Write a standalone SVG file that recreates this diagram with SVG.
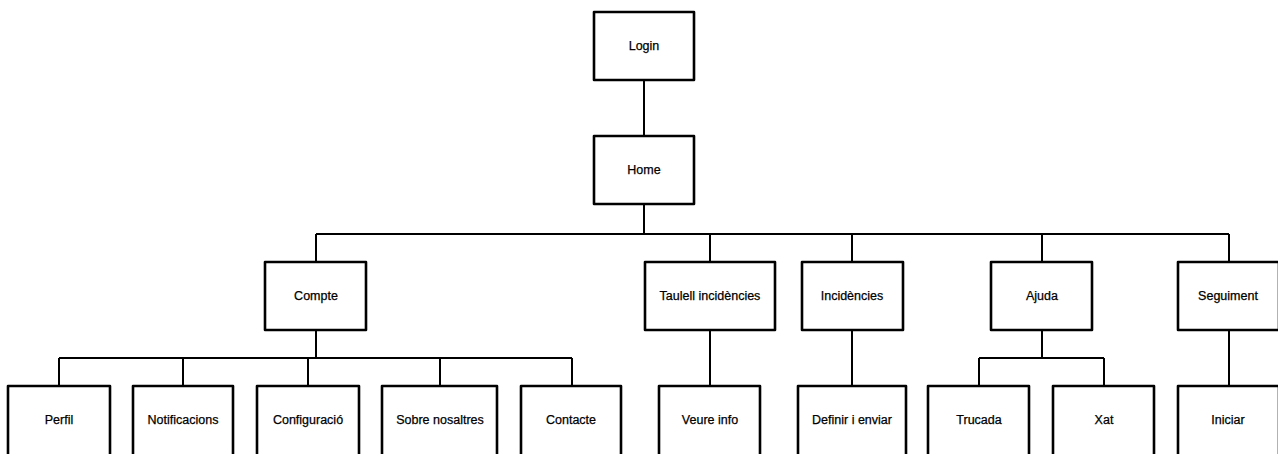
<svg xmlns="http://www.w3.org/2000/svg" width="1278" height="454" viewBox="0 0 1278 454">
<style>
.box{fill:#fff;stroke:#000;stroke-width:2.6;stroke-linejoin:round}
.lbl{font-family:"Liberation Sans",Arial,sans-serif;font-size:12.5px;fill:#000;stroke:#000;stroke-width:0.25;text-anchor:middle;dominant-baseline:central}
.conn{fill:none;stroke:#000;stroke-width:2}
</style>
<rect width="1278" height="454" fill="#fff"/>
<g id="connectors" class="conn">
<path d="M644 80V136"/>
<path d="M644 204V234"/>
<path d="M316 234H1229"/>
<path d="M316 234V262M710 234V262M852 234V262M1042 234V262M1229 234V262"/>
<path d="M316 330V358"/>
<path d="M59 358H572"/>
<path d="M59 358V386M183 358V386M308 358V386M440 358V386M572 358V386"/>
<path d="M710 330V386"/>
<path d="M852 330V386"/>
<path d="M1042 330V358"/>
<path d="M979 358H1104"/>
<path d="M979 358V386M1104 358V386"/>
<path d="M1229 330V386"/>
</g>
<g id="login"><rect class="box" x="594" y="12" width="100" height="68"/><text class="lbl" x="644" y="46">Login</text></g>
<g id="home"><rect class="box" x="594" y="136" width="100" height="68"/><text class="lbl" x="644" y="170">Home</text></g>
<g id="compte"><rect class="box" x="265" y="262" width="101" height="68"/><text class="lbl" x="316" y="296">Compte</text></g>
<g id="taulell"><rect class="box" x="645" y="262" width="130" height="68"/><text class="lbl" x="710" y="296">Taulell incidències</text></g>
<g id="incidencies"><rect class="box" x="802" y="262" width="101" height="68"/><text class="lbl" x="852" y="296">Incidències</text></g>
<g id="ajuda"><rect class="box" x="991" y="262" width="101" height="68"/><text class="lbl" x="1042" y="296">Ajuda</text></g>
<g id="seguiment"><rect class="box" x="1178" y="262" width="101" height="68"/><text class="lbl" x="1228" y="296">Seguiment</text></g>
<g id="perfil"><rect class="box" x="8" y="386" width="102" height="70"/><text class="lbl" x="59" y="420">Perfil</text></g>
<g id="notificacions"><rect class="box" x="133" y="386" width="100" height="70"/><text class="lbl" x="183" y="420">Notificacions</text></g>
<g id="configuracio"><rect class="box" x="257" y="386" width="102" height="70"/><text class="lbl" x="308" y="420">Configuració</text></g>
<g id="sobre"><rect class="box" x="382" y="386" width="115" height="70"/><text class="lbl" x="440" y="420">Sobre nosaltres</text></g>
<g id="contacte"><rect class="box" x="521" y="386" width="100" height="70"/><text class="lbl" x="571" y="420">Contacte</text></g>
<g id="veure"><rect class="box" x="659" y="386" width="101" height="70"/><text class="lbl" x="710" y="420">Veure info</text></g>
<g id="definir"><rect class="box" x="798" y="386" width="108" height="70"/><text class="lbl" x="852" y="420">Definir i enviar</text></g>
<g id="trucada"><rect class="box" x="928" y="386" width="101" height="70"/><text class="lbl" x="979" y="420">Trucada</text></g>
<g id="xat"><rect class="box" x="1053" y="386" width="101" height="70"/><text class="lbl" x="1104" y="420">Xat</text></g>
<g id="iniciar"><rect class="box" x="1178" y="386" width="101" height="70"/><text class="lbl" x="1228" y="420">Iniciar</text></g>
</svg>
